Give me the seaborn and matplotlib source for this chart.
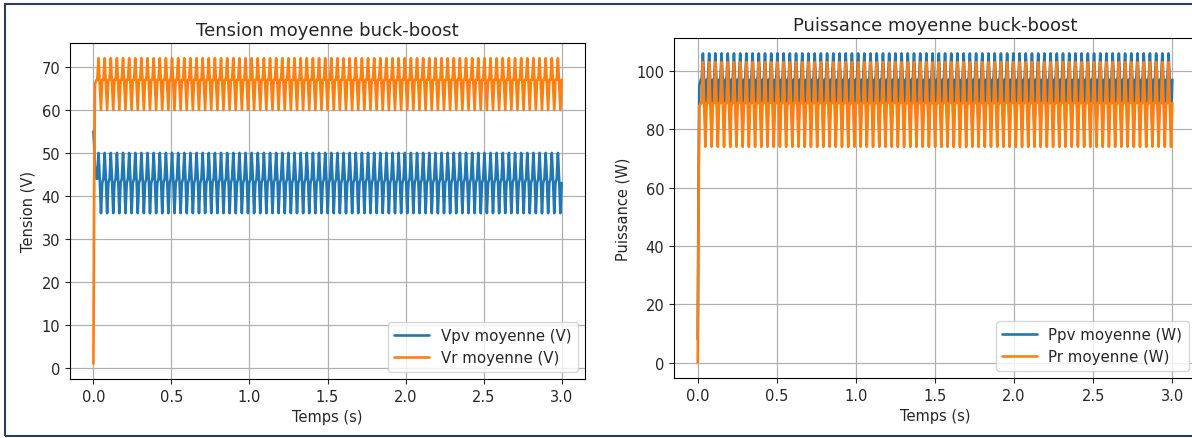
import numpy as np
import pandas as pd
import matplotlib
matplotlib.use("Agg")
import matplotlib.pyplot as plt
import seaborn as sns
from matplotlib.patches import Rectangle

# start-up transient
t_start = [0.0, 0.005, 0.01, 0.02]
vpv_start = [55, 52, 47, 44]
vr_start = [1, 40, 66, 67]
ppv_start = [8, 60, 95, 97]
pr_start = [0, 50, 88, 89]

# one period of the steady oscillation: mid, max, mid, min, mid
vpv_cycle = [44, 50, 44, 36, 43]
vr_cycle = [67, 72, 66, 60, 67]
ppv_cycle = [97, 106, 96, 80, 97]
pr_cycle = [89, 103, 88, 74, 89]
n_cycles = 76
t_end = 3.0

n_pts = n_cycles * len(vpv_cycle)
t_osc = np.linspace(t_start[-1] + 0.005, t_end, n_pts)
t = np.concatenate([t_start, t_osc])

def series(start, cycle):
    return np.concatenate([start, np.tile(cycle, n_cycles)])

df_v = pd.DataFrame({"t": t, "Vpv": series(vpv_start, vpv_cycle),
                     "Vr": series(vr_start, vr_cycle)})
df_p = pd.DataFrame({"t": t, "Ppv": series(ppv_start, ppv_cycle),
                     "Pr": series(pr_start, pr_cycle)})

sns.set_style("ticks")
plt.rcParams["font.family"] = ["DejaVu Sans"]

fig = plt.figure(figsize=(11.92, 4.39), dpi=100)
W, H = 1192, 439
ax1 = fig.add_axes([70 / W, (H - 380) / H, (585 - 70) / W, (380 - 44) / H])
ax2 = fig.add_axes([674 / W, (H - 379) / H, (1196 - 674) / W, (379 - 39) / H])

blue, orange = "#1f77b4", "#ff7f0e"
lw = 1.9

sns.lineplot(data=df_v, x="t", y="Vpv", ax=ax1, color=blue, lw=lw,
             estimator=None, label="Vpv moyenne (V)")
sns.lineplot(data=df_v, x="t", y="Vr", ax=ax1, color=orange, lw=lw,
             estimator=None, label="Vr moyenne (V)")
ax1.set_title("Tension moyenne buck-boost", fontsize=13)
ax1.set_xlabel("Temps (s)", fontsize=10.5)
ax1.set_ylabel("Tension (V)", fontsize=10.5)

sns.lineplot(data=df_p, x="t", y="Ppv", ax=ax2, color=blue, lw=lw,
             estimator=None, label="Ppv moyenne (W)")
sns.lineplot(data=df_p, x="t", y="Pr", ax=ax2, color=orange, lw=lw,
             estimator=None, label="Pr moyenne (W)")
ax2.set_title("Puissance moyenne buck-boost", fontsize=13)
ax2.set_xlabel("Temps (s)", fontsize=10.5)
ax2.set_ylabel("Puissance (W)", fontsize=10.5)

for ax in (ax1, ax2):
    ax.margins(x=0.05, y=0.05)
    ax.set_xticks([0, 0.5, 1.0, 1.5, 2.0, 2.5, 3.0])
    ax.grid(True, color="#b0b0b0", lw=0.9)
    ax.legend(loc="lower right", fontsize=10.8, handlelength=2.3)
    ax.tick_params(labelsize=10.5, length=3.5)
    for s in ax.spines.values():
        s.set_color("black")
        s.set_linewidth(0.8)
        s.set_visible(True)

ax2.set_yticks([0, 20, 40, 60, 80, 100])
ax1.set_yticks(range(0, 80, 10))

# screenshot frame
fig.patches.append(Rectangle((5 / W, 2 / H), 1.2, (H - 7) / H, transform=fig.transFigure,
                             fill=False, edgecolor="#2b3f5c", lw=1.5))

fig.savefig("out.png", dpi=100)
